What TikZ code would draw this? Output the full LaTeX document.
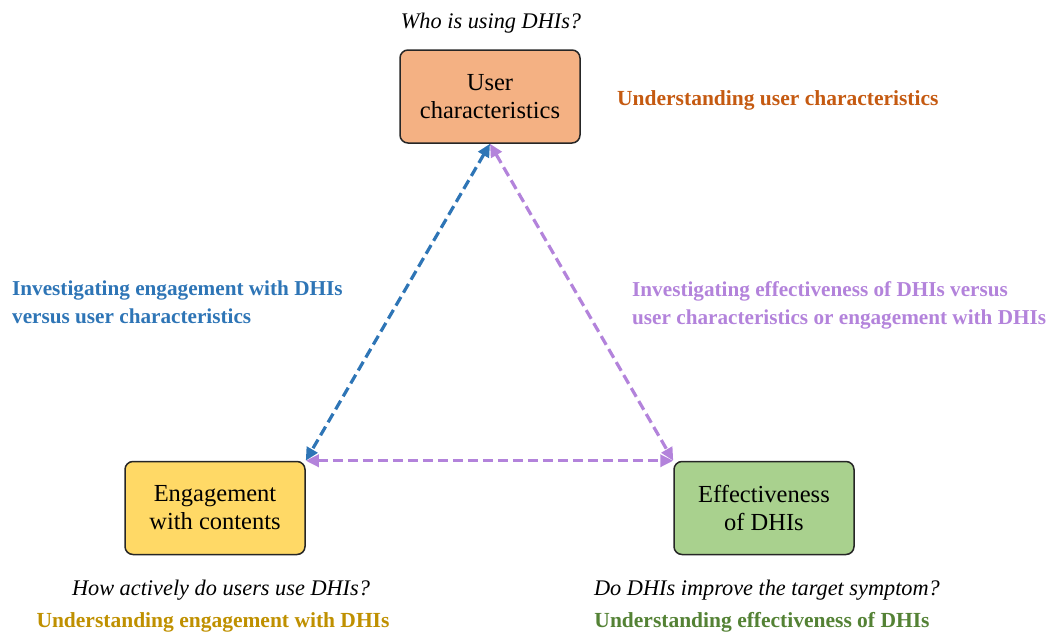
\documentclass[tikz,border=0pt]{standalone}
\usepackage{fontspec}
\setmainfont{Liberation Serif}
\usetikzlibrary{arrows.meta}
\definecolor{boxline}{HTML}{262626}
\definecolor{userfill}{HTML}{F4B183}
\definecolor{engfill}{HTML}{FFD966}
\definecolor{efffill}{HTML}{A9D18E}
\definecolor{usertxt}{HTML}{C55A11}
\definecolor{engtxt}{HTML}{BF9000}
\definecolor{efftxt}{HTML}{548235}
\definecolor{bluelink}{HTML}{2E75B6}
\definecolor{purplelink}{HTML}{B383DB}
\tikzset{
  topicbox/.style={draw=boxline, line width=1.5pt, rounded corners=8pt,
    minimum width=180pt, minimum height=93pt, align=center, inner sep=0pt,
    font=\fontsize{24.5}{28}\selectfont, text=black},
  question/.style={inner sep=0pt, anchor=base, font=\fontsize{22.3}{28}\selectfont\itshape},
  headline/.style={inner sep=0pt, anchor=base, font=\fontsize{21.5}{28}\selectfont\bfseries},
  sidenote/.style={inner sep=0pt, anchor=north west, align=left, font=\fontsize{21.2}{28}\selectfont\bfseries},
  link/.style={line width=3.2pt, dash pattern=on 10pt off 5pt,
    {Triangle[length=13pt,width=12pt]}-{Triangle[length=13pt,width=12pt]}}
}
\begin{document}
\begin{tikzpicture}[x=1pt,y=-1pt]
\useasboundingbox (0,0) rectangle (1052,635);

% the three topic boxes
\node[topicbox, fill=userfill] (user) at (490,96.5) {User\\characteristics};
\node[topicbox, fill=engfill] (eng) at (215,508) {Engagement\\with contents};
\node[topicbox, fill=efffill] (eff) at (764,508) {Effectiveness\\of DHIs};

% questions and headings
\node[question] (q1) at (491,28) {Who is using DHIs?};
\node[headline, text=usertxt, anchor=base west] (h1) at (617,105) {Understanding user characteristics};
\node[question] (q2) at (221,595) {How actively do users use DHIs?};
\node[headline, text=engtxt] (h2) at (213,627) {Understanding engagement with DHIs};
\node[question] (q3) at (767,595) {Do DHIs improve the target symptom?};
\node[headline, text=efftxt] (h3) at (762,627) {Understanding effectiveness of DHIs};

% relations between the topics
\draw[link, bluelink] (user.south) -- (eng.north east);
\draw[link, purplelink] (user.south) -- (eff.north west);
\draw[link, purplelink] (eng.north east) -- (eff.north west);

\node[sidenote, text=bluelink] (s1) at (12,281) {Investigating engagement with DHIs\\versus user characteristics};
\node[sidenote, text=purplelink] (s2) at (632,281) {Investigating effectiveness of DHIs versus\\user characteristics or engagement with DHIs};
\end{tikzpicture}
\end{document}
